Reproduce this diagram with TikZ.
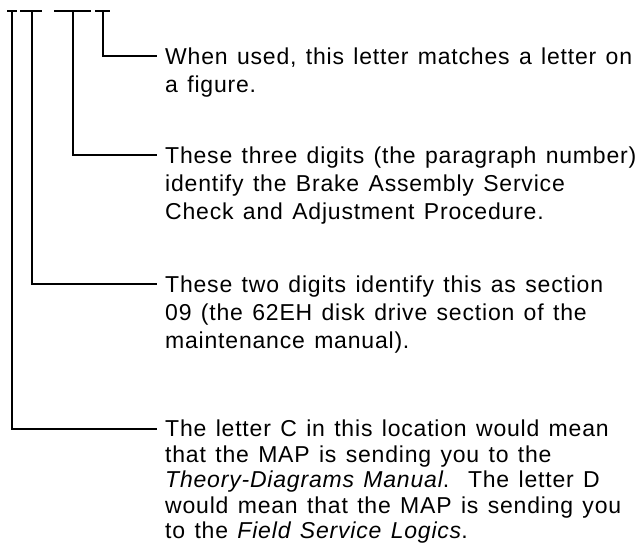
\documentclass[tikz,border=0pt]{standalone}
\usepackage{fontspec}
\setmainfont{Liberation Sans}[LetterSpace=3.5,WordSpace=1.3]
\usetikzlibrary{positioning}

\begin{document}
\begin{tikzpicture}[
    x=1pt, y=-1pt,
    bar/.style={line width=1.9pt},
    link/.style={line width=1.7pt},
    note/.style={anchor=north west, inner sep=0pt, align=left,
        font=\fontsize{23}{28}\selectfont},
    longnote/.style={note, font=\fontsize{23}{25.5}\selectfont},
]
\useasboundingbox (0,0) rectangle (643,545);

% T-bars under the reference number
\draw[bar] (7,11) -- (17,11);
\draw[bar] (20,11) -- (42,11);
\draw[bar] (54,11) -- (91,11);
\draw[bar] (95,11) -- (110,11);
\coordinate (sect1) at (12,11);
\coordinate (sect2) at (32,11);
\coordinate (para) at (73,11);
\coordinate (fig) at (103,11);

% ends of the leader lines
\coordinate (e1) at (157,56);
\coordinate (e2) at (157,155);
\coordinate (e3) at (157,284);
\coordinate (e4) at (157,429);

% Explanations
\node[note] (tfig) at (165,47.5)
    {When used, this letter matches a letter on\\
     a figure.};
\node[note] (tpara) at (165,146.5)
    {These three digits (the paragraph number)\\
     identify the Brake Assembly Service\\
     Check and Adjustment Procedure.};
\node[note] (tsect2) at (165,275.5)
    {These two digits identify this as section\\
     09 (the 62EH disk drive section of the\\
     maintenance manual).};
\node[longnote] (tsect1) at (165,420)
    {The letter C in this location would mean\\
     that the MAP is sending you to the\\
     \textit{Theory-Diagrams Manual}.\ \ The letter D\\
     would mean that the MAP is sending you\\
     to the \textit{Field Service Logics}.};

% Leaders
\draw[link] (fig) |- (e1);
\draw[link] (para) |- (e2);
\draw[link] (sect2) |- (e3);
\draw[link] (sect1) |- (e4);

\end{tikzpicture}
\end{document}
